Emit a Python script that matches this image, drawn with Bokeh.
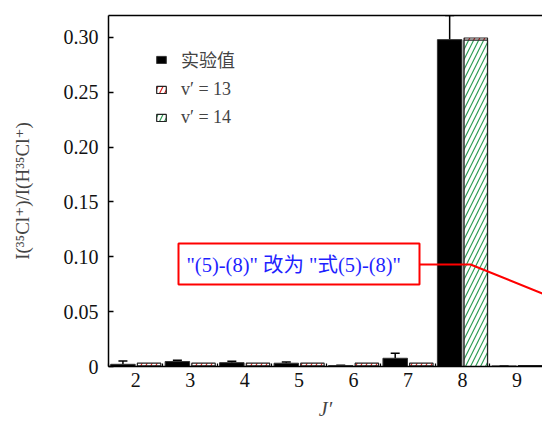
from bokeh.plotting import figure
from bokeh.models import (ColumnDataSource, Whisker, FixedTicker, LinearAxis, Label,
                          BoxAnnotation, Range1d, Legend, LegendItem)
from bokeh.embed import file_html
from bokeh.resources import INLINE

# ---------------- data ----------------
J = [2, 3, 4, 5, 6, 7, 8, 9]
exp_vals = [0.002, 0.0045, 0.0035, 0.003, 0.0008, 0.0075, 0.298, 0.0005]
exp_err = [0.003, 0.0012, 0.0012, 0.001, 0.0004, 0.0045, 0.022, 0.0]
v13_vals = [0.003, 0.003, 0.003, 0.003, 0.003, 0.003, 0.2995, 0.0008]
v14_vals = [0.0005, 0.0005, 0.0005, 0.0005, 0.0005, 0.0005, 0.2975, 0.0008]
x_ticks = J
x_minor = [1.5, 2.5, 3.5, 4.5, 5.5, 6.5, 7.5, 8.5, 9.5]
y_ticks = [0, 0.05, 0.10, 0.15, 0.20, 0.25, 0.30]
y_tick_labels = ["0", "0.05", "0.10", "0.15", "0.20", "0.25", "0.30"]
legend_labels = ["实验值", "v′ = 13", "v′ = 14"]

SERIF = "'Liberation Serif', 'DejaVu Serif', 'Noto Sans CJK SC'"

# ---------------- layout ----------------
W, H = 542, 423
FL, FT = 108, 15             # frame left/top inside figure
X0, X1 = 1.5, 9.47
Y0, Y1 = 0.0, 0.32
FW = W - FL
BB = 57
FH = H - FT - BB

p = figure(width=W, height=H, output_backend="svg", toolbar_location=None,
           x_range=Range1d(X0, X1), y_range=Range1d(Y0, Y1),
           min_border_left=FL, min_border_right=0, min_border_top=FT, min_border_bottom=BB,
           outline_line_color=None, background_fill_color="white")
p.grid.visible = False

# pixel -> data helpers for the editor's annotation marks
SX = FW / (X1 - X0)
SY = FH / (Y1 - Y0)
def dx(px):
    return X0 + (px - FL) / SX
def dy(py):
    return Y1 - (py - FT) / SY

exp_x = [j - 0.235 for j in J]
sim_x = [j + 0.245 for j in J]
src = ColumnDataSource(dict(x=exp_x, top=exp_vals,
                            up=[v + e for v, e in zip(exp_vals, exp_err)]))
s13 = ColumnDataSource(dict(x=sim_x, top=v13_vals))
s14 = ColumnDataSource(dict(x=sim_x, top=v14_vals))

r_exp = p.vbar(x="x", top="top", width=0.45, source=src, fill_color="black",
               line_color="#333333", line_width=1)
r13 = p.vbar(x="x", top="top", width=0.43, source=s13, fill_color="white",
             line_color="#222222", line_width=1.2, hatch_pattern="/",
             hatch_color="#e0201c", hatch_scale=10, hatch_weight=1.2)
r14 = p.vbar(x="x", top="top", width=0.43, source=s14, fill_color="white",
             line_color="#222222", line_width=1.2, hatch_pattern="/",
             hatch_color="#2e9e55", hatch_scale=10, hatch_weight=1.2)

wh = Whisker(base="x", lower="top", upper="up", source=src, line_color="black",
             line_width=1.5, lower_head=None)
wh.upper_head.size = 9
wh.upper_head.line_width = 1.5
p.add_layout(wh)

# axes
yax = p.yaxis[0]
yax.ticker = FixedTicker(ticks=y_ticks)
yax.major_label_overrides = {t: l for t, l in zip(y_ticks, y_tick_labels)}
yax.major_tick_in = 5
yax.major_tick_out = 0
yax.minor_tick_line_color = None
yax.axis_line_width = 1.5
yax.major_tick_line_width = 1.5
yax.major_label_standoff = 10
yax.major_label_text_font = SERIF
yax.major_label_text_font_size = "20px"
yax.major_label_text_color = "#111111"
yax.axis_label = "I(³⁵Cl⁺)/I(H³⁵Cl⁺)"
yax.axis_label_text_font = SERIF
yax.axis_label_text_font_size = "19px"
yax.axis_label_text_font_style = "normal"
yax.axis_label_standoff = 28

xax = p.xaxis[0]
xax.ticker = FixedTicker(ticks=x_ticks, minor_ticks=x_minor)
xax.major_tick_in = 0
xax.major_tick_out = 0
xax.minor_tick_in = 3
xax.minor_tick_out = 0
xax.minor_tick_line_width = 1.2
xax.axis_line_width = 1.5
xax.major_label_standoff = 6
xax.major_label_text_font = SERIF
xax.major_label_text_font_size = "20px"
xax.major_label_text_color = "#111111"
xax.axis_label = "J′"
xax.axis_label_text_font = SERIF
xax.axis_label_text_font_size = "20px"
xax.axis_label_text_font_style = "italic"
xax.axis_label_standoff = 8

top = LinearAxis(ticker=FixedTicker(ticks=[]), major_tick_out=0, major_tick_in=0,
                 minor_tick_out=0, minor_tick_in=0, major_label_standoff=0,
                 major_label_text_font_size="0px", axis_line_width=1.5)
p.add_layout(top, "above")

# legend
legend = Legend(items=[LegendItem(label=legend_labels[0], renderers=[r_exp]),
                       LegendItem(label=legend_labels[1], renderers=[r13]),
                       LegendItem(label=legend_labels[2], renderers=[r14])],
                label_text_font=SERIF, label_text_font_size="18px",
                glyph_width=12, glyph_height=9, label_standoff=14, spacing=7,
                label_height=20, padding=0, margin=0, border_line_color=None,
                background_fill_alpha=0)
leg_h = 3 * 20 + 2 * 7
legend.location = (47, FH - 39 - leg_h)
p.add_layout(legend)

# annotations (editor's mark inside the plot area)
p.line(x=[dx(419), dx(470), dx(560)], y=[dy(264), dy(264), dy(264 + 90 * 29 / 72)],
       line_color="red", line_width=2)
p.add_layout(BoxAnnotation(left=dx(178), right=dx(419), top=dy(243), bottom=dy(284),
                           fill_color="white", fill_alpha=1, line_color="red",
                           line_width=2, line_alpha=1))
p.add_layout(Label(x=dx(186), y=dy(264), text='"(5)-(8)" 改为 "式(5)-(8)"',
                   text_font=SERIF, text_font_size="20.5px", text_color="#1f1fff",
                   text_baseline="middle", text_align="left"))

open("out.html", "w").write(file_html(p, INLINE))
